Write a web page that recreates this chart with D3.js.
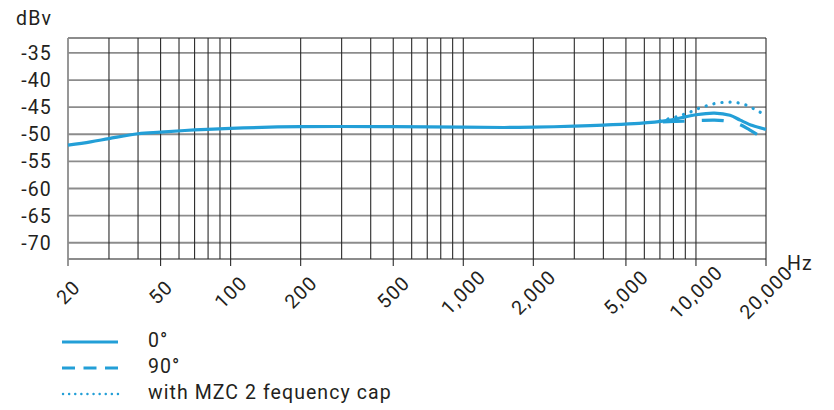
<!DOCTYPE html>
<html><head><meta charset="utf-8">
<script src="https://cdn.jsdelivr.net/npm/d3@7"></script>
<style>
html,body{margin:0;padding:0;background:#fff;}
text{font-family:Roboto,"Liberation Sans",sans-serif;fill:#231f20;letter-spacing:0.06em;}
</style></head>
<body>
<svg id="chart" width="834" height="410"></svg>
<script>
// ---- data ----
const yTicks = [-35, -40, -45, -50, -55, -60, -65, -70];
const xLabelTicks = [20, 50, 100, 200, 500, 1000, 2000, 5000, 10000, 20000];
const xLabelText = ["20", "50", "100", "200", "500", "1,000", "2,000", "5,000", "10,000", "20,000"];
const xGridTicks = [20,30,40,50,60,70,80,90,100,200,300,400,500,600,700,800,900,1000,2000,3000,4000,5000,6000,7000,8000,9000,10000,20000];

const freq0 = [20, 25, 30, 40, 50, 70, 100, 200, 500, 1000, 1500, 2000, 3000, 4000, 5700, 7450, 9000, 10000, 12000, 14000, 15500, 17500, 20000];
const db0   = [-52.0, -51.4, -50.8, -49.9, -49.6, -49.2, -48.9, -48.6, -48.6, -48.7, -48.75, -48.7, -48.5, -48.3, -48.0, -47.5, -46.8, -46.4, -46.1, -46.5, -47.4, -48.4, -49.1];

const freq90 = [7200, 8000, 8800, 10500, 12000, 13100, 14500, 15600, 17000, 18300];
const db90   = [-47.7, -47.65, -47.6, -47.45, -47.4, -47.5, -47.8, -48.3, -49.2, -50.0];

const freqCap = [7000, 7900, 8630, 9350, 10020, 10850, 11620, 12570, 13600, 14720, 15780, 17070, 18290, 20000];
const dbCap   = [-47.5, -47.0, -46.5, -46.0, -45.4, -44.9, -44.5, -44.2, -44.1, -44.1, -44.4, -44.9, -45.7, -46.3];

const legendLabels = ["0°", "90°", "with MZC 2 fequency cap"];

// ---- layout ----
const svg = d3.select("#chart");
const color = "#239fd7";
const x = d3.scaleLog().domain([20, 20000]).range([68, 766]);
const y = d3.scaleLinear().domain([-73, -32.25]).range([259, 38]);
const plotTop = y(-32.25), plotBottom = y(-73);

const g = svg.append("g");
// horizontal grid
g.selectAll(".hg").data(yTicks.concat([-32.25, -73])).join("line")
  .attr("x1", x(20)).attr("x2", x(20000))
  .attr("y1", d => y(d)).attr("y2", d => y(d))
  .attr("stroke", "#8c8c8c").attr("stroke-width", 1.8);
// vertical grid
g.selectAll(".vg").data(xGridTicks).join("line")
  .attr("x1", d => x(d)).attr("x2", d => x(d))
  .attr("y1", plotTop).attr("y2", d => xLabelTicks.includes(d) ? plotBottom + 7 : plotBottom)
  .attr("stroke", d => (d === 20) ? "#8c8c8c" : "#2a2a2a")
  .attr("stroke-width", d => (d === 20) ? 1.8 : 1.1);

// y labels
g.selectAll(".yl").data(yTicks).join("text")
  .attr("x", 52).attr("y", d => y(d)).attr("dy", "0.36em")
  .attr("text-anchor", "end").attr("font-size", 19.5).text(d => d);
svg.append("text").attr("x", 16).attr("y", 25).attr("font-size", 19.5).text("dBv");

// x labels
g.selectAll(".xl").data(xLabelTicks).join("text")
  .attr("transform", d => `translate(${x(d)},${plotBottom + 33}) rotate(-45)`)
  .attr("text-anchor", "middle").attr("dy", "0.36em")
  .attr("font-size", 19.5).text((d, i) => xLabelText[i]);
svg.append("text").attr("x", 787).attr("y", 270).attr("font-size", 19.5).text("Hz");

// curves
const line = d3.line().x(d => x(d[0])).y(d => y(d[1])).curve(d3.curveCatmullRom.alpha(0.5));
const zip = (a, b) => a.map((v, i) => [v, b[i]]);

svg.append("path").attr("d", line(zip(freqCap, dbCap)))
  .attr("fill", "none").attr("stroke", color).attr("stroke-width", 3.2)
  .attr("stroke-linecap", "round").attr("stroke-dasharray", "0.1,8");
svg.append("path").attr("d", line(zip(freq90, db90)))
  .attr("fill", "none").attr("stroke", color).attr("stroke-width", 3.2)
  .attr("stroke-dasharray", "22,17");
svg.append("path").attr("d", line(zip(freq0, db0)))
  .attr("fill", "none").attr("stroke", color).attr("stroke-width", 3.2);

// legend
const legY = [342, 368, 394];
const leg = svg.append("g");
leg.append("line").attr("x1", 62).attr("x2", 118).attr("y1", legY[0]).attr("y2", legY[0])
  .attr("stroke", color).attr("stroke-width", 2.8);
leg.append("line").attr("x1", 62).attr("x2", 118).attr("y1", legY[1]).attr("y2", legY[1])
  .attr("stroke", color).attr("stroke-width", 2.8).attr("stroke-dasharray", "13,8.5");
leg.append("line").attr("x1", 63).attr("x2", 118).attr("y1", legY[2]).attr("y2", legY[2])
  .attr("stroke", color).attr("stroke-width", 2.4).attr("stroke-linecap", "round").attr("stroke-dasharray", "0.1,6");
leg.selectAll("text").data(legendLabels).join("text")
  .attr("x", 148).attr("y", (d, i) => legY[i] + 5).attr("font-size", 19.5)
  .style("letter-spacing", "0.055em").text(d => d);
</script>
</body></html>
